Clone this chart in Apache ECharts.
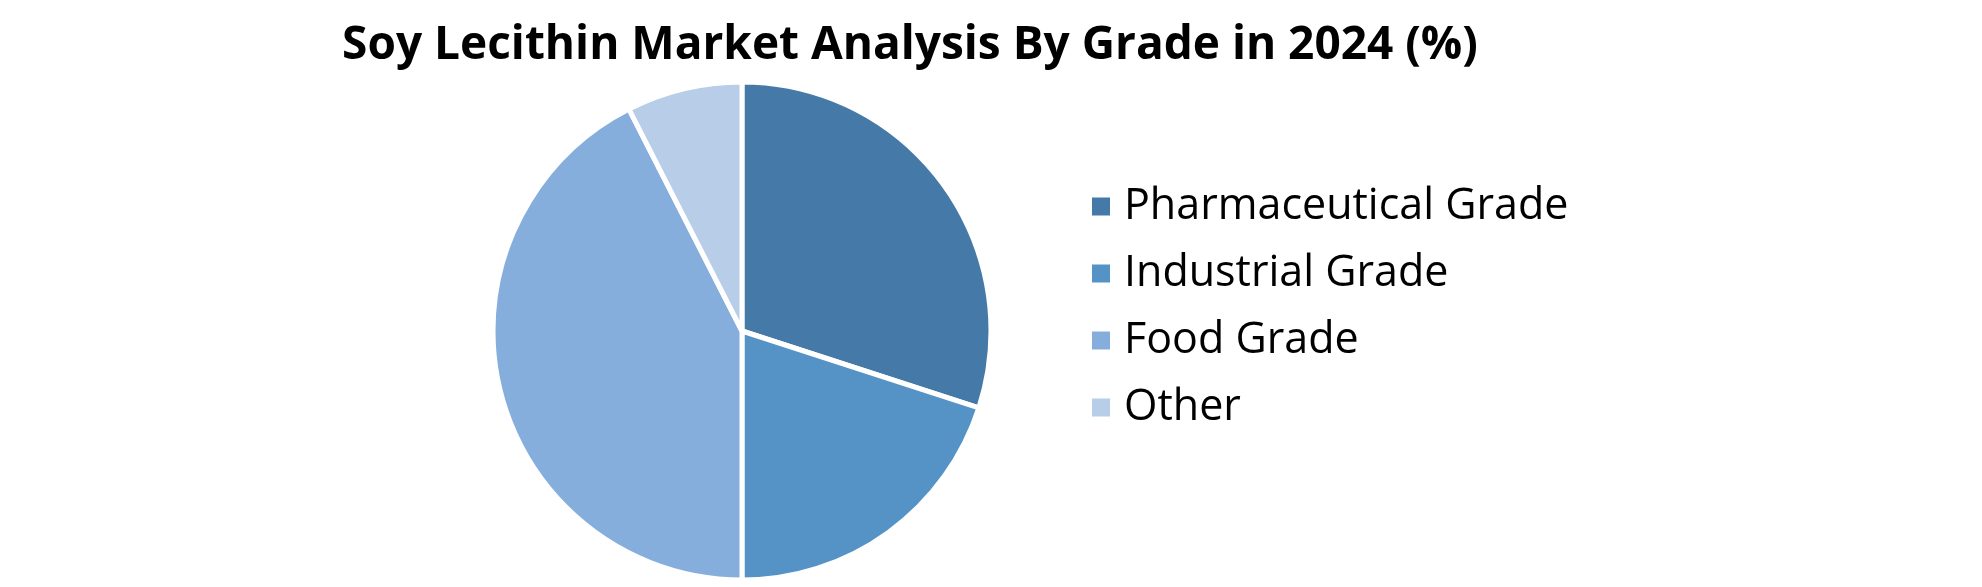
<!DOCTYPE html>
<html><head><meta charset="utf-8">
<script src="https://cdn.jsdelivr.net/npm/echarts@6/dist/echarts.min.js"></script>
<style>html,body{margin:0;padding:0;background:#fff}#c{width:1982px;height:587px}</style>
</head><body><div id="c"></div>
<script>
const categories = ["Pharmaceutical Grade", "Industrial Grade", "Food Grade", "Other"];
const values = [30, 20, 42.5, 7.5];
const colors = ["#4579A8", "#5592C6", "#86AEDD", "#B7CDE8"];
const chart = echarts.init(document.getElementById('c'));
chart.setOption({
  animation: false,
  title: { text: "Soy Lecithin Market Analysis By Grade in 2024 (%)", left: 905, top: 18, textAlign: 'center',
    textStyle: { fontFamily: "Open Sans", fontWeight: 'bold', fontSize: 46, color: '#000' } },
  legend: { orient: 'vertical', left: 1085, top: 180, itemWidth: 20, itemHeight: 20, itemGap: 24,
    icon: 'rect', textStyle: { fontFamily: "Open Sans", fontSize: 43, color: '#000', padding: [0,0,0,8] },
    data: categories },
  series: [{
    type: 'pie', center: [742, 331], radius: 249, startAngle: 90, clockwise: true,
    label: { show: false }, labelLine: { show: false },
    itemStyle: { borderColor: '#fff', borderWidth: 5 },
    data: categories.map((n, i) => ({ name: n, value: values[i], itemStyle: { color: colors[i] } }))
  }]
});
</script></body></html>
